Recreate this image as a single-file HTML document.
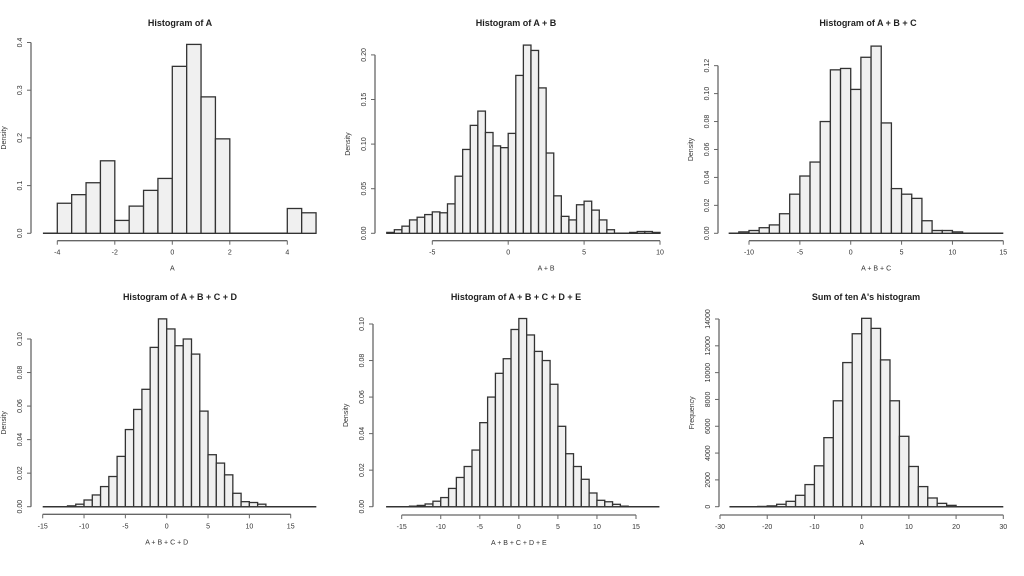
<!DOCTYPE html>
<html><head><meta charset="utf-8">
<style>
html,body{margin:0;padding:0;background:#fff;}
svg{display:block;font-family:"Liberation Sans",sans-serif;}
</style></head>
<body>
<svg id="chart" width="1024" height="576" viewBox="0 0 1024 576" xmlns="http://www.w3.org/2000/svg"></svg>
<script>
// Panel 1: Histogram of A
const p1Edges = [-4,-3.5,-3,-2.5,-2,-1.5,-1,-0.5,0,0.5,1,1.5,2,2.5,3,3.5,4,4.5];
const p1Values = [0.063,0.081,0.106,0.152,0.027,0.057,0.090,0.115,0.350,0.396,0.286,0.198,0,0,0,0,0.052,0.043];
const p1XTicks = [-4,-2,0,2,4];
const p1YTicks = [0,0.1,0.2,0.3,0.4];
const p1YLabels = ["0.0","0.1","0.2","0.3","0.4"];
// Panel 2: A + B
const p2Edges = [-8,-7.5,-7,-6.5,-6,-5.5,-5,-4.5,-4,-3.5,-3,-2.5,-2,-1.5,-1,-0.5,0,0.5,1,1.5,2,2.5,3,3.5,4,4.5,5,5.5,6,6.5,7,7.5,8,8.5,9,9.5];
const p2Values = [0.001,0.004,0.008,0.015,0.018,0.021,0.024,0.023,0.033,0.064,0.094,0.121,0.137,0.113,0.098,0.096,0.112,0.177,0.211,0.205,0.163,0.090,0.042,0.019,0.015,0.032,0.036,0.026,0.015,0.004,0,0,0.001,0.002,0.002,0.001];
const p2XTicks = [-5,0,5,10];
const p2YTicks = [0,0.05,0.10,0.15,0.20];
const p2YLabels = ["0.00","0.05","0.10","0.15","0.20"];
// Panel 3: A + B + C
const p3Edges = [-11,-10,-9,-8,-7,-6,-5,-4,-3,-2,-1,0,1,2,3,4,5,6,7,8,9,10];
const p3Values = [0.001,0.002,0.004,0.006,0.014,0.028,0.041,0.051,0.080,0.117,0.118,0.103,0.126,0.134,0.079,0.032,0.028,0.025,0.009,0.002,0.002,0.001];
const p3XTicks = [-10,-5,0,5,10,15];
const p3YTicks = [0,0.02,0.04,0.06,0.08,0.10,0.12];
const p3YLabels = ["0.00","0.02","0.04","0.06","0.08","0.10","0.12"];
// Panel 4: A + B + C + D
const p4Edges = [-12,-11,-10,-9,-8,-7,-6,-5,-4,-3,-2,-1,0,1,2,3,4,5,6,7,8,9,10,11];
const p4Values = [0.0005,0.0015,0.004,0.007,0.012,0.018,0.030,0.046,0.058,0.070,0.095,0.112,0.106,0.096,0.100,0.091,0.057,0.031,0.026,0.019,0.008,0.003,0.0025,0.0015];
const p4XTicks = [-15,-10,-5,0,5,10,15];
const p4YTicks = [0,0.02,0.04,0.06,0.08,0.10];
const p4YLabels = ["0.00","0.02","0.04","0.06","0.08","0.10"];
// Panel 5: A + B + C + D + E
const p5Edges = [-14,-13,-12,-11,-10,-9,-8,-7,-6,-5,-4,-3,-2,-1,0,1,2,3,4,5,6,7,8,9,10,11,12,13];
const p5Values = [0.0003,0.0007,0.0015,0.003,0.005,0.010,0.016,0.022,0.031,0.046,0.060,0.073,0.081,0.097,0.103,0.094,0.085,0.080,0.067,0.044,0.029,0.022,0.015,0.0075,0.0035,0.0027,0.0013,0.0003];
const p5XTicks = [-15,-10,-5,0,5,10,15];
const p5YTicks = [0,0.02,0.04,0.06,0.08,0.10];
const p5YLabels = ["0.00","0.02","0.04","0.06","0.08","0.10"];
// Panel 6: Sum of ten A's
const p6Edges = [-22,-20,-18,-16,-14,-12,-10,-8,-6,-4,-2,0,2,4,6,8,10,12,14,16,18];
const p6Values = [20,60,180,400,850,1650,3050,5150,7900,10750,12900,14050,13300,10950,7900,5250,3000,1500,650,250,100];
const p6XTicks = [-30,-20,-10,0,10,20,30];
const p6YTicks = [0,2000,4000,6000,8000,10000,12000,14000];
const p6YLabels = ["0","2000","4000","6000","8000","10000","12000","14000"];

const NS = "http://www.w3.org/2000/svg";
const svg = document.getElementById("chart");
function mk(tag, attrs, parent){const e=document.createElementNS(NS,tag);for(const k in attrs)e.setAttribute(k,attrs[k]);(parent||svg).appendChild(e);return e;}

function panel(o){
  const g = mk("g",{});
  
  
  const sx = v => o.x0 + (v - o.xa) * (o.x1 - o.x0) / (o.xb - o.xa);
  const sy = v => o.base - v * o.ppu;
  // title
  const t = mk("text",{x:o.tx,y:o.ty,"text-anchor":"middle","font-size":"9","font-weight":"bold",fill:"#222"},g);
  t.textContent = o.title;
  
  
  // baseline
  const bl = mk("line",{x1:sx(o.blA),x2:sx(o.blB),y1:o.base,y2:o.base,stroke:"#333","stroke-width":1.5},g);
  
  
  // bars
  const w = o.edges[1]-o.edges[0];
  o.edges.forEach((e,i)=>{
    const v = o.values[i];
    if(v<=0) return;
    const x = sx(e), x2 = sx(e+w), y = sy(v);
    const r = mk("rect",{x:x,y:y,width:x2-x,height:o.base-y,fill:"#f0f0f0",stroke:"#333","stroke-width":1.3},g);
    
    
  });
  // x axis
  const xa = mk("line",{x1:sx(o.xTicks[0]),x2:sx(o.xTicks[o.xTicks.length-1]),y1:o.xAxisY,y2:o.xAxisY,stroke:"#666","stroke-width":1.3},g);
  
  
  o.xTicks.forEach(v=>{
    mk("line",{x1:sx(v),x2:sx(v),y1:o.xAxisY,y2:o.xAxisY+4,stroke:"#666","stroke-width":1},g);
    const tl = mk("text",{x:sx(v),y:o.xAxisY+14,"text-anchor":"middle","font-size":"7",fill:"#333"},g);
    tl.textContent = v;
    
    
  });
  const xl = mk("text",{x:(sx(o.xTicks[0])+sx(o.xTicks[o.xTicks.length-1]))/2,y:o.xAxisY+30,"text-anchor":"middle","font-size":"7",fill:"#333"},g);
  xl.textContent = o.xlab;
  
  
  // y axis
  const yTop = sy(o.yTicks[o.yTicks.length-1]);
  const ya = mk("line",{x1:o.yAxisX,x2:o.yAxisX,y1:o.base,y2:yTop,stroke:"#666","stroke-width":1.3},g);
  
  
  o.yTicks.forEach((v,i)=>{
    mk("line",{x1:o.yAxisX-4,x2:o.yAxisX,y1:sy(v),y2:sy(v),stroke:"#666","stroke-width":1},g);
    const lx = o.yAxisX-9, ly = sy(v);
    const tl = mk("text",{x:lx,y:ly,"text-anchor":"middle","font-size":"7",fill:"#333",transform:`rotate(-90 ${lx} ${ly})`},g);
    tl.textContent = o.yLabels[i];
    
    
  });
  const yx = o.yAxisX-25, yy = (o.base+yTop)/2;
  const yl = mk("text",{x:yx,y:yy,"text-anchor":"middle","font-size":"7",fill:"#333",transform:`rotate(-90 ${yx} ${yy})`},g);
  yl.textContent = o.ylab;
  
  
}

panel({name:"panel-a",title:"Histogram of A",tx:180,ty:26,xlab:"A",ylab:"Density",
  edges:p1Edges,values:p1Values,xTicks:p1XTicks,yTicks:p1YTicks,yLabels:p1YLabels,
  xa:-4,xb:4,x0:57.3,x1:287.3,base:233.3,ppu:477,blA:-4.5,blB:5,xAxisY:240.7,yAxisX:31});
panel({name:"panel-a-b",title:"Histogram of A + B",tx:516,ty:26,xlab:"A + B",ylab:"Density",
  edges:p2Edges,values:p2Values,xTicks:p2XTicks,yTicks:p2YTicks,yLabels:p2YLabels,
  xa:-5,xb:10,x0:432.3,x1:660,base:233.3,ppu:892,blA:-8,blB:10,xAxisY:240.7,yAxisX:375});
panel({name:"panel-a-b-c",title:"Histogram of A + B + C",tx:868,ty:26,xlab:"A + B + C",ylab:"Density",
  edges:p3Edges,values:p3Values,xTicks:p3XTicks,yTicks:p3YTicks,yLabels:p3YLabels,
  xa:-10,xb:15,x0:749,x1:1003.3,base:233.3,ppu:1397,blA:-12,blB:15,xAxisY:240.7,yAxisX:718});
panel({name:"panel-a-b-c-d",title:"Histogram of A + B + C + D",tx:180,ty:300,xlab:"A + B + C + D",ylab:"Density",
  edges:p4Edges,values:p4Values,xTicks:p4XTicks,yTicks:p4YTicks,yLabels:p4YLabels,
  xa:-15,xb:15,x0:42.7,x1:290.7,base:506.7,ppu:1677,blA:-15,blB:18.1,xAxisY:514.3,yAxisX:31});
panel({name:"panel-a-b-c-d-e",title:"Histogram of A + B + C + D + E",tx:516,ty:300,xlab:"A + B + C + D + E",ylab:"Density",
  edges:p5Edges,values:p5Values,xTicks:p5XTicks,yTicks:p5YTicks,yLabels:p5YLabels,
  xa:-15,xb:15,x0:401.7,x1:636,base:506.7,ppu:1827,blA:-17,blB:18,xAxisY:515,yAxisX:373});
panel({name:"panel-sum-ten",title:"Sum of ten A's histogram",tx:866,ty:300,xlab:"A",ylab:"Frequency",
  edges:p6Edges,values:p6Values,xTicks:p6XTicks,yTicks:p6YTicks,yLabels:p6YLabels,
  xa:-30,xb:30,x0:720,x1:1003.3,base:506.7,ppu:187.7/14000,blA:-28,blB:30,xAxisY:515,yAxisX:719});
</script>
</body></html>
